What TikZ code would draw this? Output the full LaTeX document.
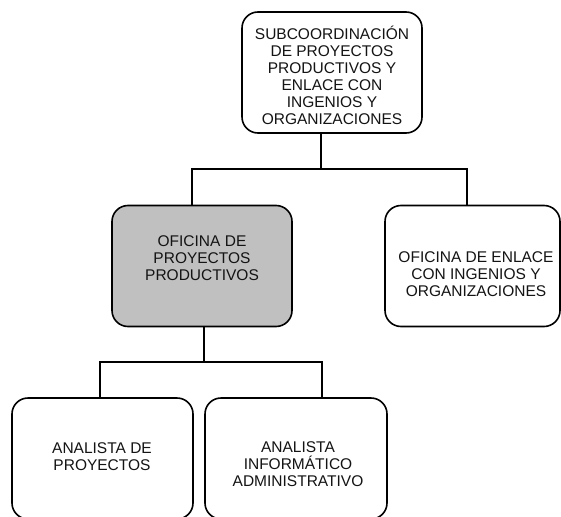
\documentclass[tikz,border=0pt]{standalone}
\usepackage{fontspec}
\setmainfont{Liberation Sans}
\usetikzlibrary{calc}
\definecolor{boxgray}{RGB}{192,192,192}
\definecolor{inkc}{RGB}{20,20,20}
\tikzset{
  orgbox/.style={draw=black, line width=1.6pt, rounded corners=16pt, fill=white,
    minimum width=180pt, minimum height=121pt, inner sep=0pt},
  orgtxt/.style={align=center, inner sep=0pt, text=inkc,
    font=\fontsize{15.5pt}{17pt}\selectfont},
  conn/.style={draw=black, line width=2.4pt, line cap=rect},
}
\begin{document}
\begin{tikzpicture}[x=1pt, y=-1pt]
  \useasboundingbox (0,0) rectangle (561,516);
  \clip (0,0) rectangle (561,516);

  % junction points of the connectors
  \coordinate (jtop) at (321,169);
  \coordinate (jmid) at (204,362);

  % connectors (drawn first so the boxes sit on top)
  \draw[conn] (321,133) -- (jtop);
  \draw[conn] (192,205) |- (jtop) -| (467,205);
  \draw[conn] (204,327) -- (jmid);
  \draw[conn] (100,398) |- (jmid) -| (322,398);

  % boxes
  \node[orgbox] (sub) at (332,72.5) {};
  \node[orgbox, fill=boxgray] (ofp) at (202,266) {};
  \node[orgbox, minimum width=175pt] (ofe) at (472.5,266) {};
  \node[orgbox, minimum width=181pt] (anp) at (102.5,458.5) {};
  \node[orgbox, minimum width=182pt] (ani) at (296,458.5) {};

  % box texts
  \node[orgtxt] (subtxt) at (332,75) {SUBCOORDINACIÓN\\DE PROYECTOS\\PRODUCTIVOS Y\\ENLACE CON\\INGENIOS Y\\ORGANIZACIONES};
  \node[orgtxt] (ofptxt) at (202,258) {OFICINA DE\\PROYECTOS\\PRODUCTIVOS};
  \node[orgtxt] (ofetxt) at (476,274) {OFICINA DE ENLACE\\CON INGENIOS Y\\ORGANIZACIONES};
  \node[orgtxt] (anptxt) at (102,457) {ANALISTA DE\\PROYECTOS};
  \node[orgtxt] (anitxt) at (298,464) {ANALISTA\\INFORMÁTICO\\ADMINISTRATIVO};
\end{tikzpicture}
\end{document}
